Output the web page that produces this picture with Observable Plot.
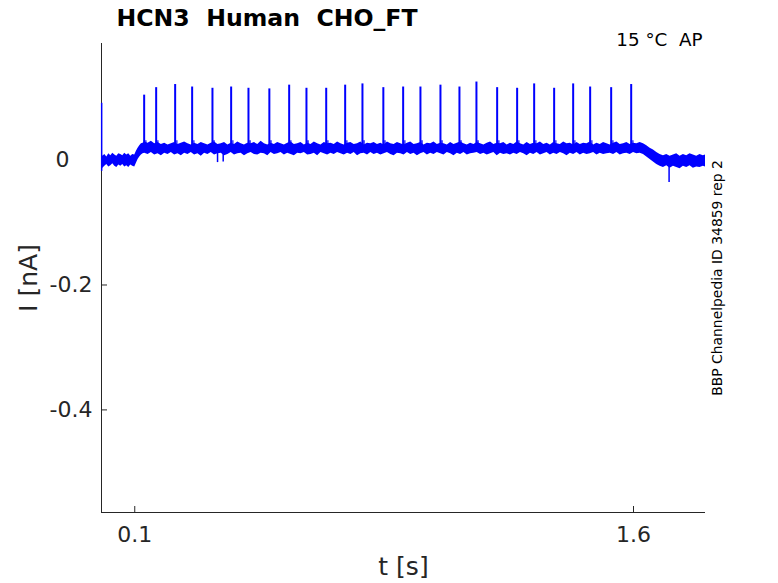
<!DOCTYPE html>
<html><head><meta charset="utf-8">
<script src="https://cdn.jsdelivr.net/npm/d3@7"></script>
<script src="https://cdn.jsdelivr.net/npm/@observablehq/plot@0.6"></script>
<style>html,body{margin:0;padding:0;background:#fff}svg{display:block}</style>
</head><body><div id="chart"></div>
<script>
const titleText = "HCN3  Human  CHO_FT";
const condText = "15 °C  AP";
const sideText = "BBP Channelpedia ID 34859 rep 2";
const xLabel = "t [s]";
const yLabel = "I [nA]";
const xTicks = [0.1, 1.6];
const yTicks = [0, -0.2, -0.4];
const xDomain = [0, 1.8165];
const yDomain = [-0.5643, 0.1867];

// envelope (upper / lower edge) of the noisy current trace, nA vs time in s
const envT = [
 0,0.004,0.01,0.016,0.022,0.028,0.034,0.04,0.046,0.052,0.058,0.064,0.07,0.076,0.082,0.088,0.094,0.1,0.105,0.11,0.115,0.12,0.125,
 0.13,0.14,0.15,0.16,0.17,0.18,0.19,0.20,0.21,0.22,
 0.23,0.24,0.25,0.26,0.27,0.28,0.29,0.30,0.31,0.32,
 0.33,0.34,0.35,0.36,0.37,0.38,0.39,0.40,0.41,0.42,
 0.43,0.44,0.45,0.46,0.47,0.48,0.49,0.50,0.51,0.52,
 0.53,0.54,0.55,0.56,0.57,0.58,0.59,0.60,0.61,0.62,
 0.63,0.64,0.65,0.66,0.67,0.68,0.69,0.70,0.71,0.72,
 0.73,0.74,0.75,0.76,0.77,0.78,0.79,0.80,0.81,0.82,
 0.83,0.84,0.85,0.86,0.87,0.88,0.89,0.90,0.91,0.92,
 0.93,0.94,0.95,0.96,0.97,0.98,0.99,1.00,1.01,1.02,
 1.03,1.04,1.05,1.06,1.07,1.08,1.09,1.10,1.11,1.12,
 1.13,1.14,1.15,1.16,1.17,1.18,1.19,1.20,1.21,1.22,
 1.23,1.24,1.25,1.26,1.27,1.28,1.29,1.30,1.31,1.32,
 1.33,1.34,1.35,1.36,1.37,1.38,1.39,1.40,1.41,1.42,
 1.43,1.44,1.45,1.46,1.47,1.48,1.49,1.50,1.51,1.52,
 1.53,1.54,1.55,1.56,1.57,1.58,1.59,1.60,1.61,1.62,
 1.63,1.64,1.65,1.66,1.67,1.68,1.69,1.70,1.71,1.72,1.73,1.74,1.75,1.76,1.77,1.78,1.79,1.80,1.81,1.8165];
const envHi = [
 0.012,0.006,0.009,0.005,0.010,0.007,0.011,0.008,0.006,0.010,0.009,0.007,0.011,0.008,0.010,0.006,0.009,0.008,0.014,0.019,0.023,0.026,0.027,
 0.029,0.027,0.030,0.026,0.028,0.025,0.027,0.024,0.026,0.028,
 0.025,0.027,0.029,0.026,0.024,0.027,0.025,0.028,0.026,0.024,
 0.027,0.029,0.025,0.026,0.028,0.024,0.027,0.025,0.029,0.026,
 0.024,0.027,0.026,0.028,0.025,0.030,0.026,0.024,0.027,0.025,
 0.028,0.026,0.024,0.027,0.029,0.025,0.026,0.028,0.024,0.027,
 0.025,0.029,0.026,0.024,0.028,0.026,0.027,0.025,0.029,0.026,
 0.024,0.027,0.028,0.025,0.026,0.029,0.024,0.027,0.026,0.028,
 0.025,0.027,0.024,0.029,0.026,0.025,0.028,0.026,0.024,0.027,
 0.029,0.025,0.026,0.028,0.024,0.027,0.026,0.029,0.025,0.027,
 0.026,0.024,0.028,0.025,0.027,0.029,0.026,0.024,0.027,0.025,
 0.028,0.026,0.024,0.027,0.029,0.025,0.027,0.026,0.028,0.024,
 0.027,0.025,0.029,0.026,0.024,0.028,0.025,0.027,0.026,0.029,
 0.025,0.027,0.024,0.028,0.026,0.025,0.029,0.026,0.027,0.024,
 0.028,0.025,0.027,0.026,0.029,0.024,0.027,0.025,0.028,0.026,
 0.024,0.027,0.029,0.025,0.026,0.028,0.025,0.027,0.026,0.028,
 0.026,0.023,0.019,0.016,0.012,0.009,0.007,0.009,0.006,0.008,0.010,0.006,0.009,0.007,0.010,0.008,0.006,0.009,0.007,0.008];
const envLo = [
 -0.016,-0.013,-0.010,-0.007,-0.011,-0.009,-0.006,-0.010,-0.012,-0.008,-0.010,-0.007,-0.011,-0.009,-0.012,-0.008,-0.010,-0.011,-0.005,0.001,0.005,0.008,0.010,
 0.011,0.009,0.012,0.008,0.010,0.007,0.011,0.009,0.012,0.008,
 0.010,0.007,0.011,0.009,0.012,0.008,0.010,0.006,0.011,0.009,
 0.012,0.008,0.010,0.011,0.007,0.009,0.012,0.008,0.010,0.011,
 0.007,0.010,0.012,0.009,0.008,0.011,0.010,0.007,0.012,0.009,
 0.010,0.012,0.008,0.011,0.009,0.007,0.011,0.010,0.012,0.008,
 0.009,0.011,0.007,0.012,0.010,0.008,0.011,0.009,0.012,0.010,
 0.008,0.011,0.009,0.012,0.007,0.010,0.011,0.008,0.012,0.009,
 0.011,0.008,0.010,0.012,0.009,0.007,0.011,0.010,0.008,0.012,
 0.009,0.011,0.007,0.010,0.012,0.008,0.011,0.009,0.012,0.010,
 0.008,0.012,0.010,0.007,0.011,0.009,0.012,0.008,0.010,0.011,
 0.012,0.009,0.011,0.008,0.010,0.012,0.007,0.011,0.009,0.010,
 0.008,0.011,0.009,0.012,0.010,0.007,0.011,0.009,0.012,0.008,
 0.010,0.012,0.008,0.011,0.009,0.012,0.010,0.007,0.011,0.009,
 0.012,0.008,0.011,0.009,0.010,0.012,0.008,0.011,0.009,0.010,
 0.011,0.009,0.012,0.008,0.010,0.011,0.009,0.012,0.010,0.011,
 0.009,0.005,0.001,-0.003,-0.007,-0.010,-0.012,-0.009,-0.013,-0.010,-0.012,-0.014,-0.010,-0.012,-0.009,-0.013,-0.011,-0.012,-0.010,-0.011];

// current spikes: times (s) and peak currents (nA)
const spikeT = [0.1283,0.1644,0.2215,0.2726,0.3337,0.3899,0.4420,0.5048,0.5644,0.6164,0.6758,0.7328,0.7848,0.8476,
 0.9072,0.9592,1.0194,1.0765,1.1276,1.1899,1.2500,1.3012,1.3613,1.4185,1.4696,1.5328,1.5930];
const spikePeak = [0.104,0.116,0.121,0.117,0.115,0.117,0.115,0.114,0.120,0.115,0.115,0.120,0.122,0.116,
 0.117,0.117,0.120,0.117,0.125,0.116,0.115,0.122,0.115,0.122,0.117,0.116,0.121];
const spikeBase = 0.019;
const humpTop = 0.031;

// isolated transients / glitches: time, low and high current (nA)
const glitchT = [0.0005, 0.349, 0.366, 1.707];
const glitchLo = [-0.018, -0.004, -0.003, -0.0357];
const glitchHi = [0.091, 0.012, 0.012, 0.0];

const W = 778, H = 583, mL = 101, mR = 73, mT = 43, mB = 71;
const plotW = W - mL - mR, plotH = H - mT - mB;
const axisColor = "#262626", traceColor = "#0000ff";

const env = envT.map((t, i) => ({t, hi: envHi[i], lo: envLo[i]}));
const spikes = spikeT.map((t, i) => ({t, peak: spikePeak[i]}));
const glitches = glitchT.map((t, i) => ({t, lo: glitchLo[i], hi: glitchHi[i]}));
// MATLAB pads the shorter "0" label to the width of the others (left-aligned)
const yTicksShort = yTicks.filter(d => String(d).length === 1);
const yTicksLong = yTicks.filter(d => String(d).length > 1);

const chart = Plot.plot({
  width: W, height: H,
  marginLeft: mL, marginRight: mR, marginTop: mT, marginBottom: mB,
  style: {fontFamily: "DejaVu Sans", background: "#fff", overflow: "visible"},
  x: {domain: xDomain},
  y: {domain: yDomain},
  marks: [
    Plot.ruleX([xDomain[0]], {stroke: axisColor, strokeWidth: 1}),
    Plot.ruleY([yDomain[0]], {stroke: axisColor, strokeWidth: 1}),
    Plot.tickX(xTicks, {x: d => d, stroke: axisColor, insetTop: plotH - 6}),
    Plot.tickY(yTicks, {y: d => d, stroke: axisColor, insetRight: plotW - 6}),
    Plot.axisX(xTicks, {tickSize: 0, tickPadding: 14, fontSize: 22, fill: axisColor, tickFormat: d => String(d), label: null}),
    Plot.axisY(yTicksLong, {tickSize: 0, tickPadding: 9, fontSize: 22, fill: axisColor, tickFormat: d => String(d), label: null}),
    Plot.axisY(yTicksShort, {tickSize: 0, tickPadding: 32, fontSize: 22, fill: axisColor, tickFormat: d => String(d), label: null}),
    Plot.areaY(env, {x: "t", y1: "lo", y2: "hi", fill: traceColor, curve: "linear"}),
    Plot.ruleX(spikes, {x: "t", y1: spikeBase, y2: humpTop, stroke: traceColor, strokeWidth: 3, strokeOpacity: 0.7, dx: 1}),
    Plot.ruleX(spikes, {x: "t", y1: spikeBase, y2: "peak", stroke: traceColor, strokeWidth: 2}),
    Plot.ruleX(glitches, {x: "t", y1: "lo", y2: "hi", stroke: traceColor, strokeWidth: 1.5}),
    Plot.text([titleText], {text: d => d, frameAnchor: "top-left", dx: 15, dy: -25, textAnchor: "start", lineAnchor: "middle", fontSize: 23.6, fontWeight: "bold", fill: "#000"}),
    Plot.text([condText], {text: d => d, frameAnchor: "top-right", dx: -3, dy: -3, textAnchor: "end", lineAnchor: "middle", fontSize: 18.3, fill: "#000"}),
    Plot.text([yLabel], {text: d => d, frameAnchor: "left", dx: -73, rotate: -90, textAnchor: "middle", lineAnchor: "middle", fontSize: 25, fill: axisColor}),
    Plot.text([xLabel], {text: d => d, frameAnchor: "bottom", dy: 54, textAnchor: "middle", lineAnchor: "middle", fontSize: 25, fill: axisColor}),
    Plot.text([sideText], {text: d => d, frameAnchor: "right", dx: 12, rotate: -90, textAnchor: "middle", lineAnchor: "middle", fontSize: 13.9, fill: "#000"})
  ]
});
document.getElementById("chart").append(chart);
</script>
</body></html>
